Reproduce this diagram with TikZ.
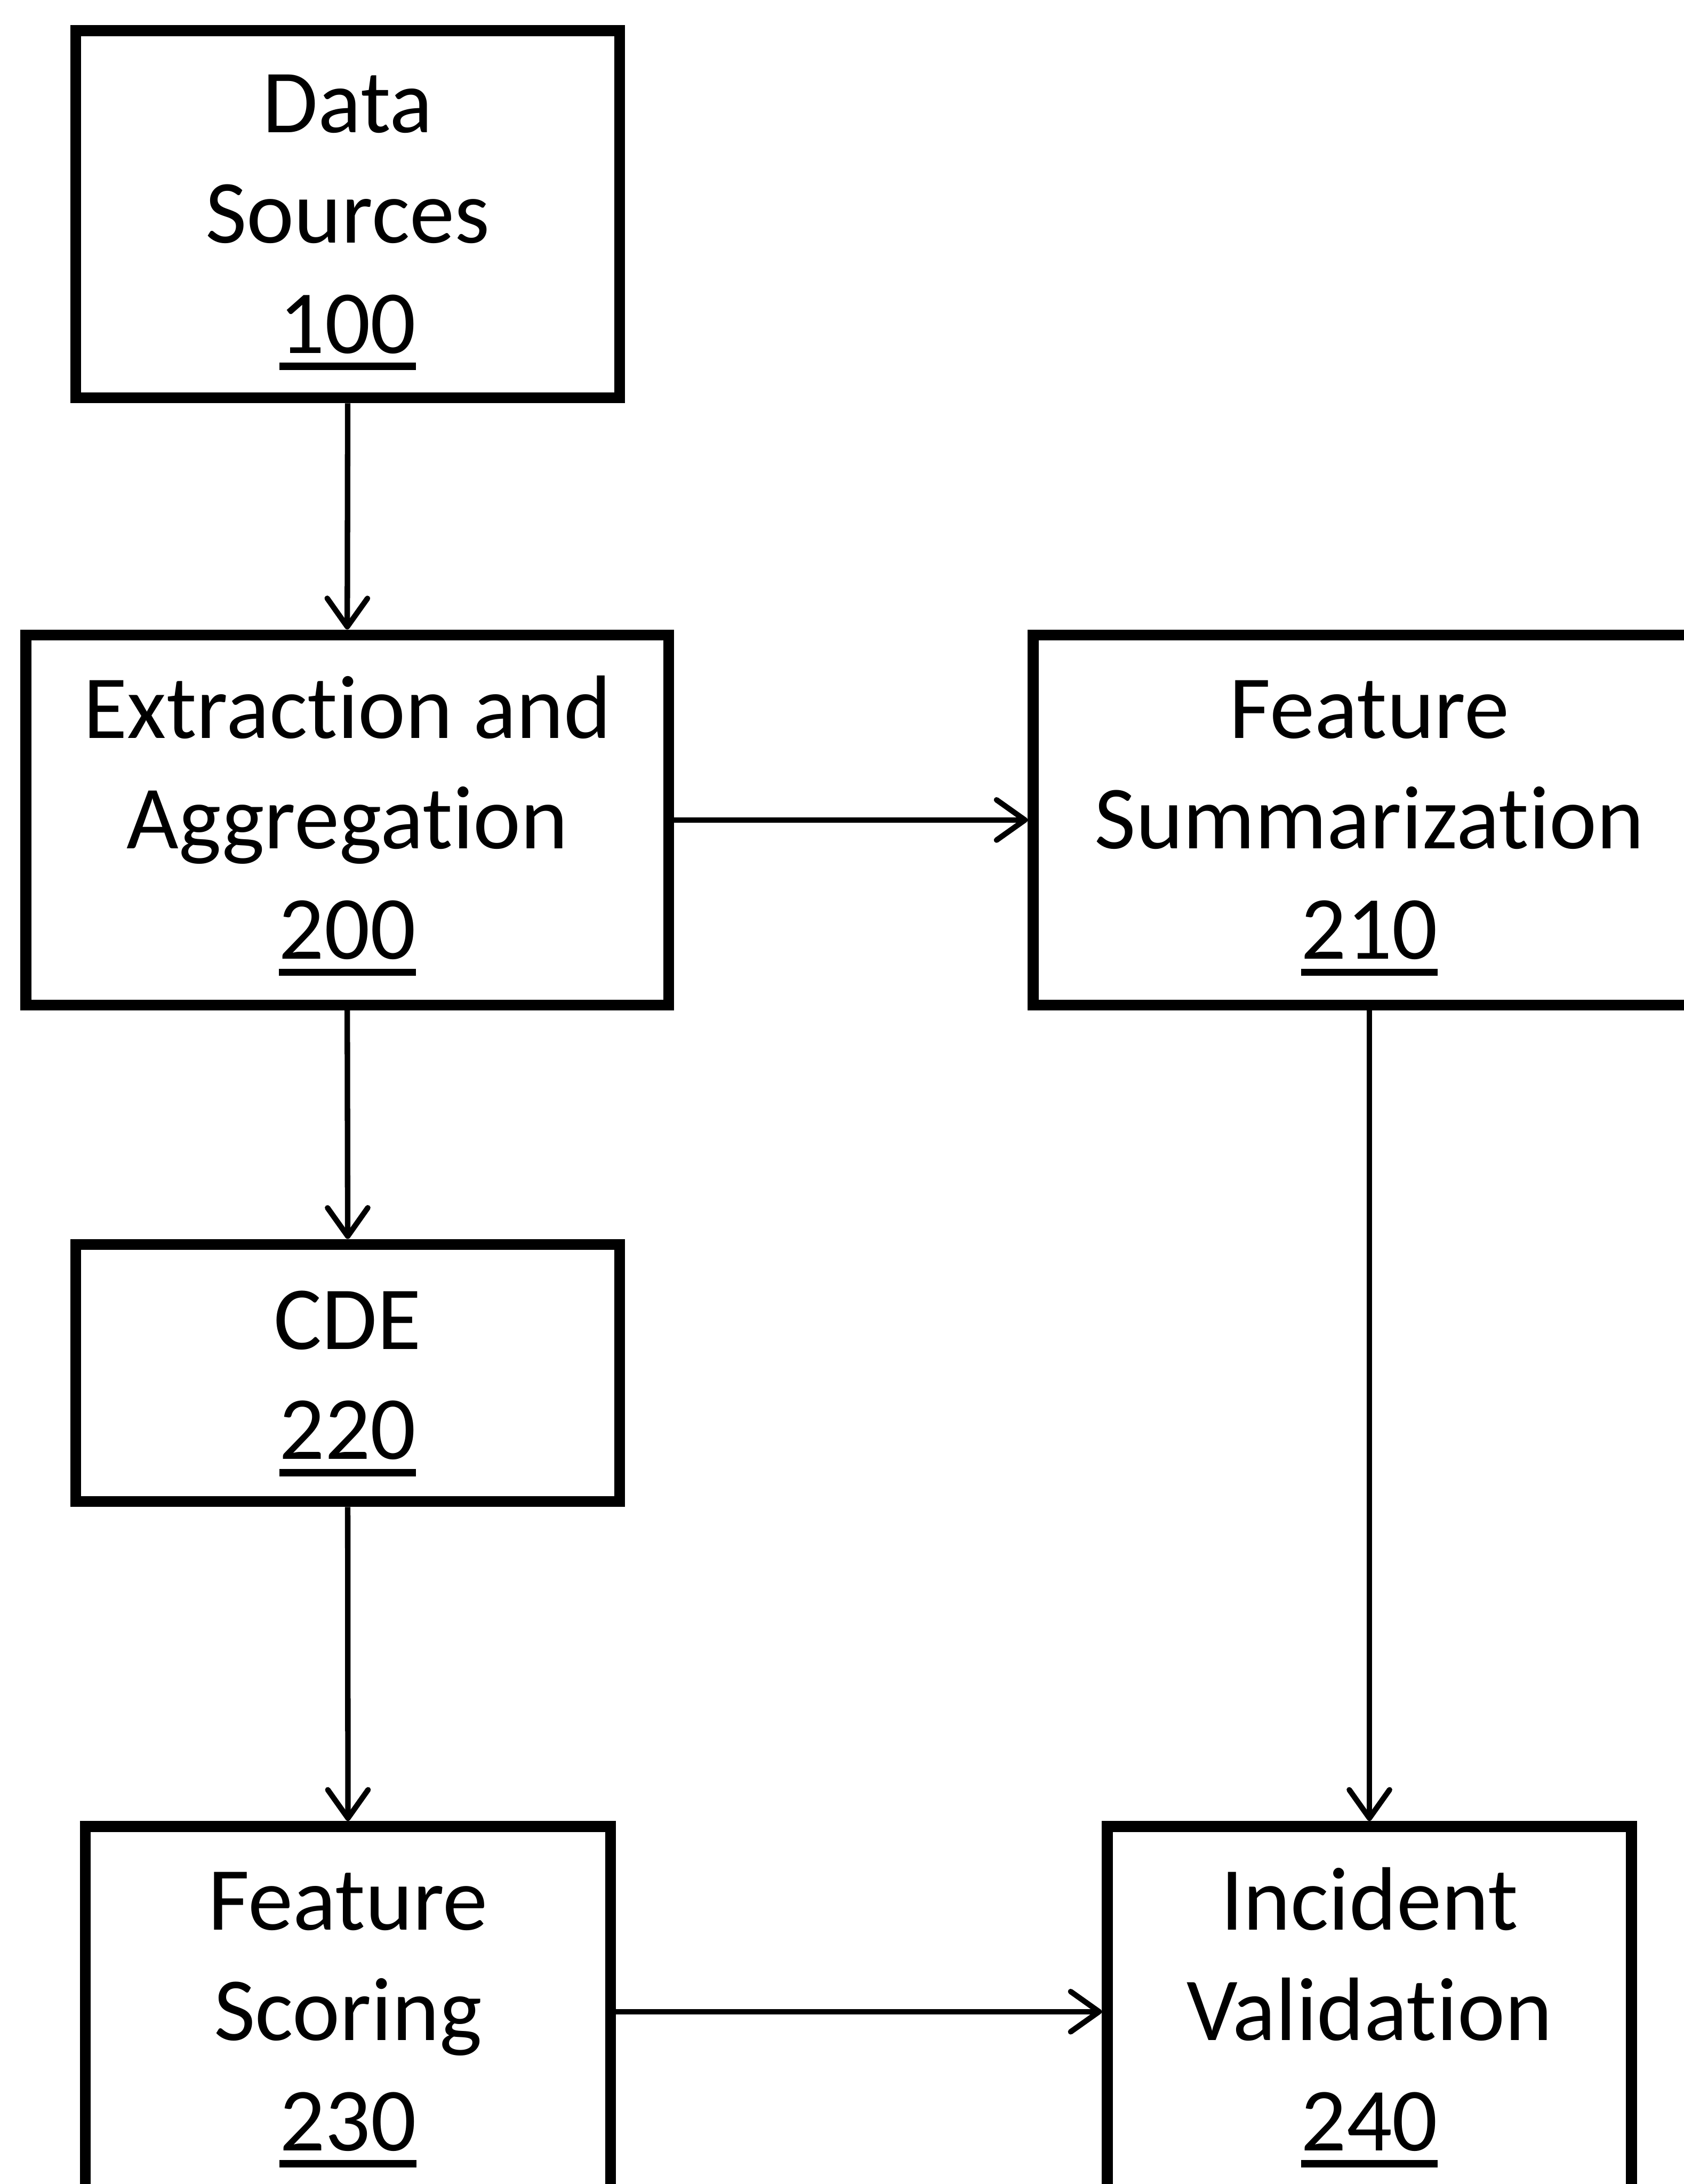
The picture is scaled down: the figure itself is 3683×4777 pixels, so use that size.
\documentclass[tikz,border=0pt]{standalone}
\usepackage{fontspec}
\setmainfont{Carlito}[Ligatures=NoCommon]
\usetikzlibrary{arrows.meta,calc}
\newcommand\ulnum[1]{\setbox0\hbox{#1}\rlap{\rule[-0.37cm]{\wd0}{0.16cm}}\box0}
\begin{document}
\begin{tikzpicture}[x=0.01cm,y=-0.01cm,
  bx/.style={draw=black,line width=0.24cm,rectangle,inner sep=0pt},
  lbl/.style={inner sep=0pt,anchor=base,font=\fontsize{56pt}{68.6pt}\selectfont},
  conn/.style={line width=0.12cm,-{Straight Barb[length=0.62cm,width=0.88cm,line cap=round,line join=round]}}]
\useasboundingbox (0,0) rectangle (3683,4777);
% boxes
\node[bx,minimum width=11.89cm,minimum height=8.03cm] (b100) at (760.5,468.5) {};
\node[bx,minimum width=14.05cm,minimum height=8.09cm] (b200) at (759.5,1793.5) {};
\node[bx,minimum width=14.70cm,minimum height=8.09cm] (b210) at (2995,1793.5) {};
\node[bx,minimum width=11.89cm,minimum height=5.62cm] (b220) at (760.5,3003) {};
\node[bx,minimum width=11.48cm,minimum height=8.10cm] (b230) at (761,4400) {};
\node[bx,minimum width=11.46cm,minimum height=8.10cm] (b240) at (2995,4400) {};
% labels
\node[lbl] (t100) at ($(b100.center)+(0,304)$) {\begin{tabular}[b]{@{}c@{}}Data\\Sources\\\ulnum{100}\end{tabular}};
\node[lbl] (t200) at ($(b200.center)+(0,304)$) {\begin{tabular}[b]{@{}c@{}}Extraction and\\Aggregation\\\ulnum{200}\end{tabular}};
\node[lbl] (t210) at ($(b210.center)+(0,304)$) {\begin{tabular}[b]{@{}c@{}}Feature\\Summarization\\\ulnum{210}\end{tabular}};
\node[lbl] (t220) at ($(b220.center)+(0,189)$) {\begin{tabular}[b]{@{}c@{}}CDE\\\ulnum{220}\end{tabular}};
\node[lbl] (t230) at ($(b230.center)+(0,304)$) {\begin{tabular}[b]{@{}c@{}}Feature\\Scoring\\\ulnum{230}\end{tabular}};
\node[lbl] (t240) at ($(b240.center)+(0,304)$) {\begin{tabular}[b]{@{}c@{}}Incident\\Validation\\\ulnum{240}\end{tabular}};
% connectors
\draw[conn] (b100.south) -- (b200.north);
\draw[conn] (b200.east) -- (b210.west);
\draw[conn] (b200.south) -- (b220.north);
\draw[conn] (b220.south) -- (b230.north);
\draw[conn] (b210.south) -- (b240.north);
\draw[conn] (b230.east) -- (b240.west);
\end{tikzpicture}
\end{document}
